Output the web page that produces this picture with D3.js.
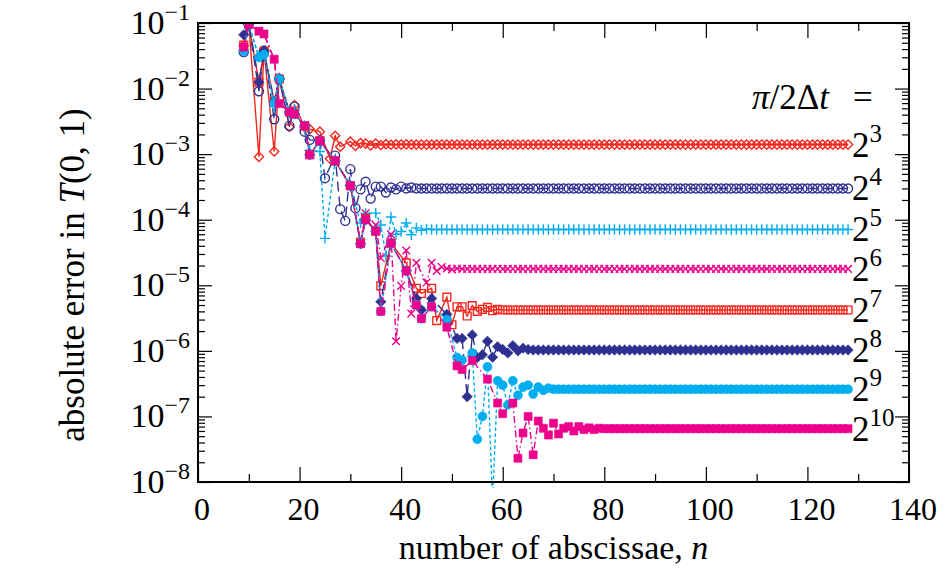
<!DOCTYPE html>
<html>
<head>
<meta charset="utf-8">
<script src="https://cdn.jsdelivr.net/npm/d3@7"></script>
<style>
  body { margin: 0; background: #fff; }
  text { font-family: "Liberation Serif", "Times New Roman", serif; fill: #000; }
</style>
</head>
<body>
<svg id="chart" width="948" height="574"></svg>
<script>
/* DATA */
// number of abscissae n (x values shared by every series)
const abscissae = [
  9, 10, 11, 12, 13, 14, 15, 16, 17, 18,
  19, 20, 21, 22, 23, 24, 25, 26, 27, 28,
  29, 30, 31, 32, 33, 34, 35, 36, 37, 38,
  39, 40, 41, 42, 43, 44, 45, 46, 47, 48,
  49, 50, 51, 52, 53, 54, 55, 56, 57, 58,
  59, 60, 61, 62, 63, 64, 65, 66, 67, 68,
  69, 70, 71, 72, 73, 74, 75, 76, 77, 78,
  79, 80, 81, 82, 83, 84, 85, 86, 87, 88,
  89, 90, 91, 92, 93, 94, 95, 96, 97, 98,
  99, 100, 101, 102, 103, 104, 105, 106, 107, 108,
  109, 110, 111, 112, 113, 114, 115, 116, 117, 118,
  119, 120, 121, 122, 123, 124, 125, 126, 127, 128
];

// absolute error in T(0,1), one array per pi/2dt value (null = no point)
const err2e3 = [
  4.5e-2, 9.5e-2, null, 9.1e-4, 3.8e-2, null, 1.1e-3, 1.45e-2, null, 2.6e-3,
  5.6e-3, null, 2.6e-3, 2.4e-3, null, 2.2e-3, null, 8.5e-4, 1.9e-3, 1.3e-3,
  null, 1.55e-3, 1.34e-3, 1.47e-3, 1.45e-3, 1.36e-3, 1.45e-3, 1.38e-3, 1.42e-3, 1.39e-3,
  1.41e-3, 1.4e-3, 1.41e-3, 1.4e-3, 1.4e-3, 1.4e-3, 1.4e-3, 1.4e-3, 1.4e-3, 1.4e-3,
  1.4e-3, 1.4e-3, 1.4e-3, 1.4e-3, 1.4e-3, 1.4e-3, 1.4e-3, 1.4e-3, 1.4e-3, 1.4e-3,
  1.4e-3, 1.4e-3, 1.4e-3, 1.4e-3, 1.4e-3, 1.4e-3, 1.4e-3, 1.4e-3, 1.4e-3, 1.4e-3,
  1.4e-3, 1.4e-3, 1.4e-3, 1.4e-3, 1.4e-3, 1.4e-3, 1.4e-3, 1.4e-3, 1.4e-3, 1.4e-3,
  1.4e-3, 1.4e-3, 1.4e-3, 1.4e-3, 1.4e-3, 1.4e-3, 1.4e-3, 1.4e-3, 1.4e-3, 1.4e-3,
  1.4e-3, 1.4e-3, 1.4e-3, 1.4e-3, 1.4e-3, 1.4e-3, 1.4e-3, 1.4e-3, 1.4e-3, 1.4e-3,
  1.4e-3, 1.4e-3, 1.4e-3, 1.4e-3, 1.4e-3, 1.4e-3, 1.4e-3, 1.4e-3, 1.4e-3, 1.4e-3,
  1.4e-3, 1.4e-3, 1.4e-3, 1.4e-3, 1.4e-3, 1.4e-3, 1.4e-3, 1.4e-3, 1.4e-3, 1.4e-3,
  1.4e-3, 1.4e-3, 1.4e-3, 1.4e-3, 1.4e-3, 1.4e-3, 1.4e-3, 1.4e-3, 1.4e-3, 1.4e-3
];
const err2e4 = [
  3.6e-2, 9.5e-2, null, 9.1e-3, 3.8e-2, null, 3.4e-3, 1.4e-2, null, 2.7e-3,
  5.3e-3, null, 2.2e-3, 1.65e-3, null, 1.6e-3, 4.3e-4, null, 9.5e-4, 1.45e-4,
  9.6e-5, 5.9e-4, 1.5e-4, 2.9e-4, 3.8e-4, 2.1e-4, 3.2e-4, 3.2e-4, 2.6e-4, 3.1e-4,
  2.9e-4, 3.2e-4, 3.0e-4, 3.1e-4, 3.0e-4, 3.0e-4, 3.0e-4, 3.0e-4, 3.0e-4, 3.0e-4,
  3.0e-4, 3.0e-4, 3.0e-4, 3.0e-4, 3.0e-4, 3.0e-4, 3.0e-4, 3.0e-4, 3.0e-4, 3.0e-4,
  3.0e-4, 3.0e-4, 3.0e-4, 3.0e-4, 3.0e-4, 3.0e-4, 3.0e-4, 3.0e-4, 3.0e-4, 3.0e-4,
  3.0e-4, 3.0e-4, 3.0e-4, 3.0e-4, 3.0e-4, 3.0e-4, 3.0e-4, 3.0e-4, 3.0e-4, 3.0e-4,
  3.0e-4, 3.0e-4, 3.0e-4, 3.0e-4, 3.0e-4, 3.0e-4, 3.0e-4, 3.0e-4, 3.0e-4, 3.0e-4,
  3.0e-4, 3.0e-4, 3.0e-4, 3.0e-4, 3.0e-4, 3.0e-4, 3.0e-4, 3.0e-4, 3.0e-4, 3.0e-4,
  3.0e-4, 3.0e-4, 3.0e-4, 3.0e-4, 3.0e-4, 3.0e-4, 3.0e-4, 3.0e-4, 3.0e-4, 3.0e-4,
  3.0e-4, 3.0e-4, 3.0e-4, 3.0e-4, 3.0e-4, 3.0e-4, 3.0e-4, 3.0e-4, 3.0e-4, 3.0e-4,
  3.0e-4, 3.0e-4, 3.0e-4, 3.0e-4, 3.0e-4, 3.0e-4, 3.0e-4, 3.0e-4, 3.0e-4, 3.0e-4
];
const err2e5 = [
  3.7e-2, 9.5e-2, null, 3.0e-2, 3.8e-2, null, 5.3e-3, 1.4e-2, null, 4.2e-3,
  4.8e-3, null, 2.4e-3, 1.15e-3, null, 1.1e-3, 5.2e-5, null, 7.9e-4, null,
  null, 3.4e-4, null, 8.9e-5, 1.25e-4, null, 1.26e-4, 8.3e-5, 2.8e-5, 1.1e-4,
  6.0e-5, 6.6e-5, 8.9e-5, 5.9e-5, 7.5e-5, 6.9e-5, 7.2e-5, 7.1e-5, 7.1e-5, 7.1e-5,
  7.1e-5, 7.1e-5, 7.1e-5, 7.1e-5, 7.1e-5, 7.1e-5, 7.1e-5, 7.1e-5, 7.1e-5, 7.1e-5,
  7.1e-5, 7.1e-5, 7.1e-5, 7.1e-5, 7.1e-5, 7.1e-5, 7.1e-5, 7.1e-5, 7.1e-5, 7.1e-5,
  7.1e-5, 7.1e-5, 7.1e-5, 7.1e-5, 7.1e-5, 7.1e-5, 7.1e-5, 7.1e-5, 7.1e-5, 7.1e-5,
  7.1e-5, 7.1e-5, 7.1e-5, 7.1e-5, 7.1e-5, 7.1e-5, 7.1e-5, 7.1e-5, 7.1e-5, 7.1e-5,
  7.1e-5, 7.1e-5, 7.1e-5, 7.1e-5, 7.1e-5, 7.1e-5, 7.1e-5, 7.1e-5, 7.1e-5, 7.1e-5,
  7.1e-5, 7.1e-5, 7.1e-5, 7.1e-5, 7.1e-5, 7.1e-5, 7.1e-5, 7.1e-5, 7.1e-5, 7.1e-5,
  7.1e-5, 7.1e-5, 7.1e-5, 7.1e-5, 7.1e-5, 7.1e-5, 7.1e-5, 7.1e-5, 7.1e-5, 7.1e-5,
  7.1e-5, 7.1e-5, 7.1e-5, 7.1e-5, 7.1e-5, 7.1e-5, 7.1e-5, 7.1e-5, 7.1e-5, 7.1e-5
];
const err2e6 = [
  4.3e-2, 9.5e-2, null, 7.5e-2, 6.8e-2, null, 2.8e-2, 5.9e-3, null, 4.4e-3,
  4.1e-3, null, 2.7e-3, 9.8e-4, null, 1.6e-3, null, null, 7.9e-4, null,
  null, 3.3e-4, null, 4.6e-5, 1.25e-4, null, 8.3e-5, 2.6e-5, null, 6.0e-5,
  1.4e-6, 9.8e-6, 3.4e-5, 3.7e-6, 2.2e-5, null, 1.1e-5, 2.2e-5, 1.65e-5, 1.9e-5,
  1.8e-5, 1.75e-5, 1.8e-5, 1.78e-5, 1.78e-5, 1.78e-5, 1.78e-5, 1.78e-5, 1.78e-5, 1.78e-5,
  1.78e-5, 1.78e-5, 1.78e-5, 1.78e-5, 1.78e-5, 1.78e-5, 1.78e-5, 1.78e-5, 1.78e-5, 1.78e-5,
  1.78e-5, 1.78e-5, 1.78e-5, 1.78e-5, 1.78e-5, 1.78e-5, 1.78e-5, 1.78e-5, 1.78e-5, 1.78e-5,
  1.78e-5, 1.78e-5, 1.78e-5, 1.78e-5, 1.78e-5, 1.78e-5, 1.78e-5, 1.78e-5, 1.78e-5, 1.78e-5,
  1.78e-5, 1.78e-5, 1.78e-5, 1.78e-5, 1.78e-5, 1.78e-5, 1.78e-5, 1.78e-5, 1.78e-5, 1.78e-5,
  1.78e-5, 1.78e-5, 1.78e-5, 1.78e-5, 1.78e-5, 1.78e-5, 1.78e-5, 1.78e-5, 1.78e-5, 1.78e-5,
  1.78e-5, 1.78e-5, 1.78e-5, 1.78e-5, 1.78e-5, 1.78e-5, 1.78e-5, 1.78e-5, 1.78e-5, 1.78e-5,
  1.78e-5, 1.78e-5, 1.78e-5, 1.78e-5, 1.78e-5, 1.78e-5, 1.78e-5, 1.78e-5, 1.78e-5, 1.78e-5
];
const err2e7 = [
  4.6e-2, 9.5e-2, null, 1.25e-2, 3.7e-2, null, 6.3e-3, 1.4e-2, null, 4.4e-3,
  4.1e-3, null, 2.7e-3, 9.8e-4, null, 1.6e-3, null, null, 7.9e-4, null,
  null, 3.3e-4, null, 4.5e-5, 1.05e-4, null, 6.7e-5, 9.8e-6, null, 4.4e-5,
  null, null, 2.2e-5, null, 9.0e-6, 7.5e-6, null, 9.0e-6, 2.9e-6, null,
  6.6e-6, 2.5e-6, 4.7e-6, 4.7e-6, 3.4e-6, 4.9e-6, 4.0e-6, 4.3e-6, 4.6e-6, 4.1e-6,
  4.3e-6, 4.2e-6, 4.2e-6, 4.2e-6, 4.2e-6, 4.2e-6, 4.2e-6, 4.2e-6, 4.2e-6, 4.2e-6,
  4.2e-6, 4.2e-6, 4.2e-6, 4.2e-6, 4.2e-6, 4.2e-6, 4.2e-6, 4.2e-6, 4.2e-6, 4.2e-6,
  4.2e-6, 4.2e-6, 4.2e-6, 4.2e-6, 4.2e-6, 4.2e-6, 4.2e-6, 4.2e-6, 4.2e-6, 4.2e-6,
  4.2e-6, 4.2e-6, 4.2e-6, 4.2e-6, 4.2e-6, 4.2e-6, 4.2e-6, 4.2e-6, 4.2e-6, 4.2e-6,
  4.2e-6, 4.2e-6, 4.2e-6, 4.2e-6, 4.2e-6, 4.2e-6, 4.2e-6, 4.2e-6, 4.2e-6, 4.2e-6,
  4.2e-6, 4.2e-6, 4.2e-6, 4.2e-6, 4.2e-6, 4.2e-6, 4.2e-6, 4.2e-6, 4.2e-6, 4.2e-6,
  4.2e-6, 4.2e-6, 4.2e-6, 4.2e-6, 4.2e-6, 4.2e-6, 4.2e-6, 4.2e-6, 4.2e-6, 4.2e-6
];
const err2e8 = [
  6.6e-2, 9.5e-2, null, 1.25e-2, 3.7e-2, null, 6.3e-3, 1.4e-2, null, 4.4e-3,
  4.1e-3, null, 2.7e-3, 9.8e-4, null, 1.6e-3, null, null, 7.9e-4, null,
  null, 3.3e-4, null, 4.3e-5, 1.0e-4, null, 6.7e-5, 5.6e-6, null, 4.4e-5,
  null, null, 1.66e-5, null, 6.3e-6, 4.2e-6, null, 6.3e-6, null, null,
  3.6e-6, null, 1.55e-6, 1.55e-6, 2.0e-7, 1.75e-6, 7.9e-7, 8.7e-7, 1.4e-6, 8.0e-7,
  1.16e-6, 1.05e-6, 9.3e-7, 1.2e-6, 1.0e-6, 1.1e-6, 1.05e-6, 1.03e-6, 1.03e-6, 1.03e-6,
  1.03e-6, 1.03e-6, 1.03e-6, 1.03e-6, 1.03e-6, 1.03e-6, 1.03e-6, 1.03e-6, 1.03e-6, 1.03e-6,
  1.03e-6, 1.03e-6, 1.03e-6, 1.03e-6, 1.03e-6, 1.03e-6, 1.03e-6, 1.03e-6, 1.03e-6, 1.03e-6,
  1.03e-6, 1.03e-6, 1.03e-6, 1.03e-6, 1.03e-6, 1.03e-6, 1.03e-6, 1.03e-6, 1.03e-6, 1.03e-6,
  1.03e-6, 1.03e-6, 1.03e-6, 1.03e-6, 1.03e-6, 1.03e-6, 1.03e-6, 1.03e-6, 1.03e-6, 1.03e-6,
  1.03e-6, 1.03e-6, 1.03e-6, 1.03e-6, 1.03e-6, 1.03e-6, 1.03e-6, 1.03e-6, 1.03e-6, 1.03e-6,
  1.03e-6, 1.03e-6, 1.03e-6, 1.03e-6, 1.03e-6, 1.03e-6, 1.03e-6, 1.03e-6, 1.03e-6, 1.03e-6
];
const err2e9 = [
  3.8e-2, 9.5e-2, null, 3.0e-2, 3.3e-2, null, 6.0e-3, 1.4e-2, null, 4.4e-3,
  4.1e-3, null, 2.7e-3, 9.8e-4, null, 1.6e-3, null, null, 7.9e-4, null,
  null, 3.3e-4, null, 4.3e-5, 1.0e-4, null, 6.7e-5, 4.0e-6, null, 4.4e-5,
  null, null, 1.66e-5, null, 5.0e-6, 3.1e-6, null, 4.7e-6, null, null,
  3.0e-6, null, 7.9e-7, 7.2e-7, null, 9.3e-7, 4.5e-8, 1.0e-7, 5.7e-7, 5.0e-9,
  3.5e-7, 3.0e-7, 1.5e-7, 3.5e-7, 2.1e-7, 2.8e-7, 3.0e-7, 2.2e-7, 2.8e-7, 2.5e-7,
  2.7e-7, 2.6e-7, 2.6e-7, 2.6e-7, 2.6e-7, 2.6e-7, 2.6e-7, 2.6e-7, 2.6e-7, 2.6e-7,
  2.6e-7, 2.6e-7, 2.6e-7, 2.6e-7, 2.6e-7, 2.6e-7, 2.6e-7, 2.6e-7, 2.6e-7, 2.6e-7,
  2.6e-7, 2.6e-7, 2.6e-7, 2.6e-7, 2.6e-7, 2.6e-7, 2.6e-7, 2.6e-7, 2.6e-7, 2.6e-7,
  2.6e-7, 2.6e-7, 2.6e-7, 2.6e-7, 2.6e-7, 2.6e-7, 2.6e-7, 2.6e-7, 2.6e-7, 2.6e-7,
  2.6e-7, 2.6e-7, 2.6e-7, 2.6e-7, 2.6e-7, 2.6e-7, 2.6e-7, 2.6e-7, 2.6e-7, 2.6e-7,
  2.6e-7, 2.6e-7, 2.6e-7, 2.6e-7, 2.6e-7, 2.6e-7, 2.6e-7, 2.6e-7, 2.6e-7, 2.6e-7
];
const err2e10 = [
  4.3e-2, 9.5e-2, null, 7.5e-2, 6.8e-2, null, 2.8e-2, 5.9e-3, null, 4.4e-3,
  4.1e-3, null, 2.7e-3, 9.8e-4, null, 1.6e-3, null, null, 7.9e-4, null,
  null, 3.3e-4, null, 4.3e-5, 1.0e-4, null, 6.7e-5, 4.0e-6, null, 4.4e-5,
  null, null, 1.66e-5, null, 5.0e-6, 3.1e-6, null, 4.7e-6, null, null,
  2.3e-6, null, 5.9e-7, 5.2e-7, null, 7.1e-7, null, null, 3.7e-7, null,
  1.6e-7, 1.1e-7, null, 1.6e-7, 2.3e-8, 5.6e-8, 1.0e-7, 2.6e-8, 8.5e-8, 6.6e-8,
  5.2e-8, 7.9e-8, 5.4e-8, 6.6e-8, 7.0e-8, 6.0e-8, 7.0e-8, 6.3e-8, 6.7e-8, 6.3e-8,
  6.6e-8, 6.5e-8, 6.5e-8, 6.5e-8, 6.5e-8, 6.5e-8, 6.5e-8, 6.5e-8, 6.5e-8, 6.5e-8,
  6.5e-8, 6.5e-8, 6.5e-8, 6.5e-8, 6.5e-8, 6.5e-8, 6.5e-8, 6.5e-8, 6.5e-8, 6.5e-8,
  6.5e-8, 6.5e-8, 6.5e-8, 6.5e-8, 6.5e-8, 6.5e-8, 6.5e-8, 6.5e-8, 6.5e-8, 6.5e-8,
  6.5e-8, 6.5e-8, 6.5e-8, 6.5e-8, 6.5e-8, 6.5e-8, 6.5e-8, 6.5e-8, 6.5e-8, 6.5e-8,
  6.5e-8, 6.5e-8, 6.5e-8, 6.5e-8, 6.5e-8, 6.5e-8, 6.5e-8, 6.5e-8, 6.5e-8, 6.5e-8
];

// exponent k in pi/2dt = 2^k, same order as the error arrays
const dtExponents = ["3", "4", "5", "6", "7", "8", "9", "10"];
const errSeries = [err2e3, err2e4, err2e5, err2e6, err2e7, err2e8, err2e9, err2e10];

// axis tick labels
const xTickLabels = [0, 20, 40, 60, 80, 100, 120, 140];
const xMinorTicks = [10, 30, 50, 70, 90, 110, 130];
const yTickExponents = [-1, -2, -3, -4, -5, -6, -7, -8];

/* STYLES */
const red = "#f2281e", navy = "#2e3192", cyan = "#00aeef", magenta = "#ec008c";
const seriesStyle = [
  { color: red,     shape: "diamond", size: 4.6, filled: false, dash: null },
  { color: navy,    shape: "circle",  size: 4.5, filled: false, dash: "10,5" },
  { color: cyan,    shape: "plus",    size: 5.2, filled: false, dash: "3.5,2.5" },
  { color: magenta, shape: "cross",   size: 3.8, filled: false, dash: "7,3,1.5,3" },
  { color: red,     shape: "square",  size: 3.9, filled: false, dash: null },
  { color: navy,    shape: "diamond", size: 5.2, filled: true,  dash: "10,5" },
  { color: cyan,    shape: "circle",  size: 4.5, filled: true,  dash: "3.5,2.5" },
  { color: magenta, shape: "square",  size: 4.0, filled: true,  dash: "7,3,1.5,3" }
];

const markerPath = {
  diamond: h => `M0,${-h}L${h},0L0,${h}L${-h},0Z`,
  square: h => `M${-h},${-h}H${h}V${h}H${-h}Z`,
  plus: h => `M${-h},0H${h}M0,${-h}V${h}`,
  cross: h => `M${-h},${-h}L${h},${h}M${-h},${h}L${h},${-h}`,
  circle: h => `M${h},0A${h},${h} 0 1,1 ${-h},0A${h},${h} 0 1,1 ${h},0Z`
};

/* CHART */
const svg = d3.select("#chart");
const plot = { left: 198, right: 909, top: 23, bottom: 482 };

const x = d3.scaleLinear().domain([0, 140]).range([plot.left, plot.right]);
const y = d3.scaleLog().domain([1e-8, 1e-1]).range([plot.bottom, plot.top]);

svg.append("rect").attr("width", 948).attr("height", 574).attr("fill", "#fff");

svg.append("defs").append("clipPath").attr("id", "plotClip")
  .append("rect")
  .attr("x", plot.left).attr("y", plot.top)
  .attr("width", plot.right - plot.left)
  .attr("height", plot.bottom - plot.top + 6);

// ticks (inward, mirrored on all four sides)
function tickAxis(axis, values, size, transform) {
  const g = svg.append("g")
    .attr("transform", transform)
    .call(axis.tickValues(values).tickSize(-size).tickFormat(""));
  g.select(".domain").remove();
  g.selectAll(".tick line").attr("stroke", "#000").attr("stroke-width", 1.2);
  return g;
}
const yMinor = y.ticks().filter(v => !yTickExponents.includes(Math.round(Math.log10(v) * 1000) / 1000));
const yMajor = yTickExponents.map(e => Math.pow(10, e));

tickAxis(d3.axisBottom(x), xTickLabels, 15, `translate(0,${plot.bottom})`);
tickAxis(d3.axisBottom(x), xMinorTicks, 8, `translate(0,${plot.bottom})`);
tickAxis(d3.axisTop(x), xTickLabels, 15, `translate(0,${plot.top})`);
tickAxis(d3.axisTop(x), xMinorTicks, 8, `translate(0,${plot.top})`);
tickAxis(d3.axisLeft(y), yMajor, 14, `translate(${plot.left},0)`);
tickAxis(d3.axisLeft(y), yMinor, 7, `translate(${plot.left},0)`);
tickAxis(d3.axisRight(y), yMajor, 14, `translate(${plot.right},0)`);
tickAxis(d3.axisRight(y), yMinor, 7, `translate(${plot.right},0)`);

// series lines + markers
const seriesLayer = svg.append("g").attr("clip-path", "url(#plotClip)");
const line = d3.line().x(d => x(d.n)).y(d => y(d.e));

errSeries.forEach((errs, i) => {
  const st = seriesStyle[i];
  const pts = abscissae.map((n, j) => ({ n: n, e: errs[j] })).filter(d => d.e != null);
  const g = seriesLayer.append("g");

  g.append("path")
    .datum(pts)
    .attr("d", line)
    .attr("fill", "none")
    .attr("stroke", st.color)
    .attr("stroke-width", 1.4)
    .attr("stroke-dasharray", st.dash);

  g.selectAll("path.mk")
    .data(pts.filter(d => d.e >= 1e-8))
    .join("path")
    .attr("class", "mk")
    .attr("transform", d => `translate(${x(d.n)},${y(d.e)})`)
    .attr("d", markerPath[st.shape](st.size))
    .attr("fill", st.filled ? st.color : "none")
    .attr("stroke", st.color)
    .attr("stroke-width", st.filled ? 0.6 : 1.4);
});

// frame
svg.append("rect")
  .attr("x", plot.left).attr("y", plot.top)
  .attr("width", plot.right - plot.left).attr("height", plot.bottom - plot.top)
  .attr("fill", "none").attr("stroke", "#000").attr("stroke-width", 2);

// x tick labels
svg.append("g").selectAll("text")
  .data(xTickLabels)
  .join("text")
  .attr("x", d => x(d) + 4)
  .attr("y", 520)
  .attr("text-anchor", "middle")
  .attr("font-size", 32)
  .text(d => d);

// y tick labels 10^k
const yLab = svg.append("g").selectAll("text")
  .data(yTickExponents)
  .join("text")
  .attr("x", 190)
  .attr("y", d => y(Math.pow(10, d)) + 11)
  .attr("text-anchor", "end")
  .attr("font-size", 34);
yLab.append("tspan").text("10");
yLab.append("tspan").attr("dy", -14).attr("font-size", 24).text(d => "\u2212" + Math.abs(d));

// axis titles
const xTitle = svg.append("text")
  .attr("x", (plot.left + plot.right) / 2)
  .attr("y", 559)
  .attr("text-anchor", "middle")
  .attr("font-size", 34);
xTitle.append("tspan").text("number of abscissae, ");
xTitle.append("tspan").attr("font-style", "italic").text("n");

const yTitle = svg.append("text")
  .attr("transform", "translate(84,275) rotate(-90)")
  .attr("text-anchor", "middle")
  .attr("font-size", 35);
yTitle.append("tspan").text("absolute error in ");
yTitle.append("tspan").attr("font-style", "italic").text("T");
yTitle.append("tspan").text("(0, 1)");

// right-hand annotations
const head = svg.append("text")
  .attr("x", 752).attr("y", 109)
  .attr("font-size", 35);
head.append("tspan").attr("font-style", "italic").text("\u03c0");
head.append("tspan").text("/2\u0394");
head.append("tspan").attr("font-style", "italic").text("t");
head.append("tspan").attr("x", 853).text("=");

errSeries.forEach((errs, i) => {
  const last = errs[errs.length - 1];
  const t = svg.append("text")
    .attr("x", 852)
    .attr("y", y(last) + 12)
    .attr("font-size", 35);
  t.append("tspan").text("2");
  t.append("tspan").attr("dy", -15).attr("font-size", 25).text(dtExponents[i]);
});
</script>
</body>
</html>
